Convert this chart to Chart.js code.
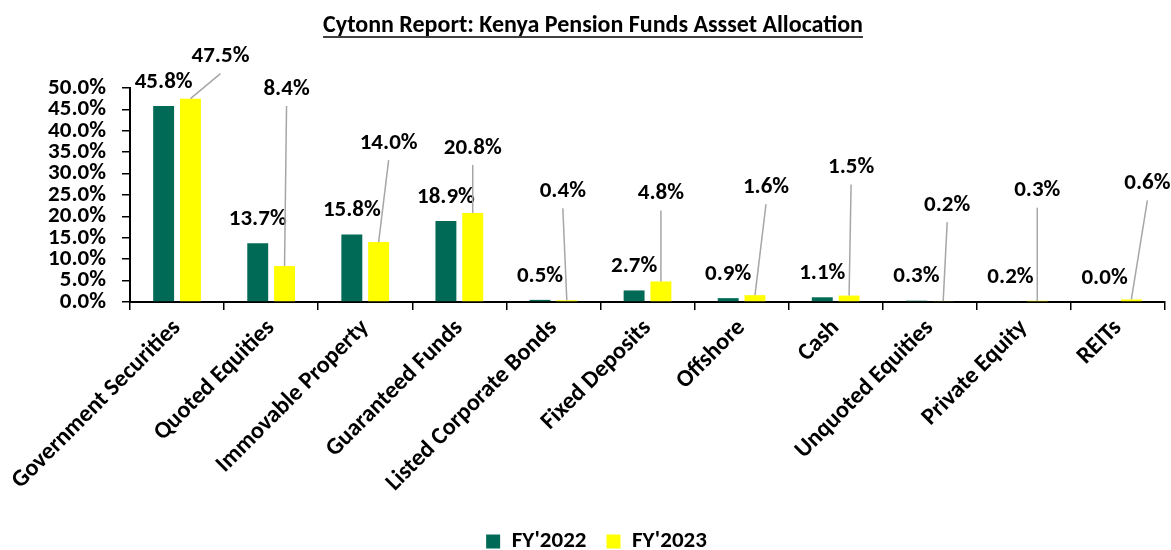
<!DOCTYPE html>
<html>
<head>
<meta charset="utf-8">
<script src="https://cdn.jsdelivr.net/npm/chart.js@4.4.1/dist/chart.umd.min.js"></script>
<style>
html,body{margin:0;padding:0;background:#fff;}
#wrap{width:1171px;height:550px;position:relative;}
</style>
</head>
<body>
<div id="wrap"><canvas id="c" width="1171" height="550"></canvas></div>
<script>
const titleText = "Cytonn Report: Kenya Pension Funds Assset Allocation";
const categories = ["Government Securities","Quoted Equities","Immovable Property","Guaranteed Funds","Listed Corporate Bonds","Fixed Deposits","Offshore","Cash","Unquoted Equities","Private Equity","REITs"];
const seriesNames = ["FY'2022","FY'2023"];
const fy2022 = [45.8,13.7,15.8,18.9,0.5,2.7,0.9,1.1,0.3,0.2,0.0];
const fy2023 = [47.5,8.4,14.0,20.8,0.4,4.8,1.6,1.5,0.2,0.3,0.6];
const yMin = 0, yMax = 50, yStep = 5;

// callout label offsets (px) for FY'2023 labels, relative to bar top
const calloutDx = [30,2,10,0,-4,0,11,2,4,0,16];
const calloutDy = [-42,-177,-99,-65,-109,-88,-108,-128,-96,-110,-116];

const FONT = "Carlito, Lato, 'Open Sans', sans-serif";
const GREEN = "#006A56";
const YELLOW = "#FFFF00";
const LABEL_SIZE = 23;

const labelPlugin = {
  id: 'valueLabels',
  afterDatasetsDraw(chart) {
    const ctx = chart.ctx;
    ctx.save();
    ctx.font = "bold " + LABEL_SIZE + "px " + FONT;
    ctx.fillStyle = "#000";
    ctx.textAlign = "center";
    ctx.textBaseline = "middle";
    const m0 = chart.getDatasetMeta(0), m1 = chart.getDatasetMeta(1);
    m0.data.forEach((bar, i) => {
      ctx.fillText(fy2022[i].toFixed(1) + "%", bar.x, bar.y - 24);
    });
    m1.data.forEach((bar, i) => {
      const lx = bar.x + calloutDx[i], ly = bar.y + calloutDy[i];
      ctx.strokeStyle = "#A6A6A6";
      ctx.lineWidth = 1.5;
      ctx.beginPath();
      ctx.moveTo(lx, ly + 17);
      ctx.lineTo(bar.x, bar.y);
      ctx.stroke();
      ctx.fillText(fy2023[i].toFixed(1) + "%", lx, ly);
    });
    ctx.restore();
  }
};

const titlePlugin = {
  id: 'underlinedTitle',
  afterLayout(chart) {
    // nudge legend to sit where the reference legend sits
    if (chart.legend) { chart.legend.left += 14; chart.legend.right += 14; }
  },
  afterDraw(chart) {
    const ctx = chart.ctx;
    ctx.save();
    ctx.font = "bold 24px " + FONT;
    ctx.fillStyle = "#000";
    ctx.textAlign = "center";
    ctx.textBaseline = "middle";
    const cx = 593, cy = 26;
    ctx.fillText(titleText, cx, cy);
    const w = ctx.measureText(titleText).width;
    ctx.strokeStyle = "#000";
    ctx.lineWidth = 1.5;
    ctx.beginPath();
    ctx.moveTo(cx - w / 2, 37);
    ctx.lineTo(cx + w / 2, 37);
    ctx.stroke();
    ctx.restore();
  }
};

new Chart(document.getElementById('c'), {
  type: 'bar',
  data: {
    labels: categories,
    datasets: [
      { label: seriesNames[0], data: fy2022, backgroundColor: GREEN, barPercentage: 0.78, categoryPercentage: 0.57 },
      { label: seriesNames[1], data: fy2023, backgroundColor: YELLOW, barPercentage: 0.78, categoryPercentage: 0.57 }
    ]
  },
  options: {
    responsive: false,
    devicePixelRatio: 1,
    animation: false,
    layout: { padding: { left: 0, right: 6, top: 88, bottom: -13 } },
    plugins: {
      title: { display: false },
      legend: {
        position: 'bottom',
        labels: {
          color: "#000",
          font: { family: FONT, size: 23, weight: 'bold' },
          boxWidth: 14,
          boxHeight: 14,
          padding: 20
        }
      },
      tooltip: { enabled: false }
    },
    scales: {
      x: {
        grid: { display: true, drawOnChartArea: false, drawTicks: true, tickLength: 8, color: "#000", lineWidth: 1.5, offset: true },
        border: { display: true, color: "#000", width: 2 },
        ticks: { color: "#000", font: { family: FONT, size: 24, weight: 'bold' }, minRotation: 45, maxRotation: 45, autoSkip: false, padding: 4 },
        afterFit(s) { s.height = 208; }
      },
      y: {
        min: yMin, max: yMax,
        grid: { display: true, drawOnChartArea: false, drawTicks: true, tickLength: 8, color: "#000", lineWidth: 1.5 },
        border: { display: true, color: "#000", width: 2 },
        ticks: { stepSize: yStep, autoSkip: false, color: "#000", font: { family: FONT, size: LABEL_SIZE, weight: 'bold' }, padding: 16, callback: v => v.toFixed(1) + "%" },
        afterFit(s) { s.width = 130; }
      }
    }
  },
  plugins: [labelPlugin, titlePlugin]
});
</script>
</body>
</html>
